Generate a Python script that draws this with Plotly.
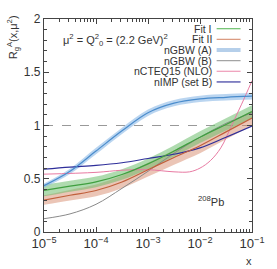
import numpy as np
import plotly.graph_objects as go

# log10(x) grid for the smooth curves
logx = [-5, -4.5, -4, -3.5, -3, -2.5, -2, -1.5, -1]

fit1 = [0.39, 0.43, 0.47, 0.54, 0.64, 0.76, 0.89, 1.01, 1.13]
fit1_err = [0.055, 0.052, 0.05, 0.05, 0.05, 0.052, 0.055, 0.058, 0.06]

fit2 = [0.30, 0.345, 0.39, 0.47, 0.585, 0.70, 0.81, 0.94, 1.07]
fit2_err = [0.045, 0.05, 0.055, 0.06, 0.065, 0.068, 0.07, 0.07, 0.07]

ngbw_a = [0.435, 0.57, 0.76, 0.95, 1.12, 1.21, 1.25, 1.265, 1.275]
ngbw_a_err = [0.02, 0.025, 0.03, 0.03, 0.03, 0.03, 0.03, 0.03, 0.03]

ngbw_b = [0.125, 0.17, 0.26, 0.41, 0.57, 0.74, 0.89, 1.02, 1.12]

nimp = [0.59, 0.61, 0.625, 0.65, 0.69, 0.73, 0.79, 0.89, 0.995]

logx_cteq = [-5, -4, -3.5, -3, -2.5, -2.2, -2, -1.8, -1.6, -1.4, -1.2, -1]
ncteq = [0.543, 0.56, 0.58, 0.585, 0.565, 0.565, 0.6, 0.67, 0.79, 0.99, 1.2, 1.42]

legend_names = ["Fit I", "Fit II", "nGBW (A)", "nGBW (B)", "nCTEQ15 (NLO)", "nIMP (set B)"]

x = 10 ** np.array(logx, dtype=float)
xc = 10 ** np.array(logx_cteq, dtype=float)

C_GREEN = "#3f9f3f"
C_GREEN_BAND = "rgba(110,190,110,0.55)"
C_BROWN = "#c0603c"
C_BROWN_BAND = "rgba(215,140,110,0.5)"
C_BLUE = "#4a8ccc"
C_BLUE_BAND = "rgba(140,185,230,0.6)"
C_GRAY = "#8a8a8a"
C_PINK = "#e87aa2"
C_NAVY = "#2e2e9a"

fig = go.Figure()


def band(y, e, color):
    y = np.array(y)
    e = np.array(e)
    fig.add_trace(go.Scatter(x=x, y=y + e, mode="lines", line=dict(width=0, shape="spline"),
                             showlegend=False, hoverinfo="skip"))
    fig.add_trace(go.Scatter(x=x, y=y - e, mode="lines", line=dict(width=0, shape="spline"),
                             fill="tonexty", fillcolor=color, showlegend=False, hoverinfo="skip"))


band(fit2, fit2_err, C_BROWN_BAND)
band(fit1, fit1_err, C_GREEN_BAND)
band(ngbw_a, ngbw_a_err, C_BLUE_BAND)

fig.add_trace(go.Scatter(x=x, y=ngbw_b, mode="lines", line=dict(color=C_GRAY, width=1, shape="spline"), showlegend=False))
fig.add_trace(go.Scatter(x=xc, y=ncteq, mode="lines", line=dict(color=C_PINK, width=1, shape="spline"), showlegend=False))
fig.add_trace(go.Scatter(x=x, y=nimp, mode="lines", line=dict(color=C_NAVY, width=1.2, shape="spline"), showlegend=False))
fig.add_trace(go.Scatter(x=x, y=fit2, mode="lines", line=dict(color=C_BROWN, width=1.2, shape="spline"), showlegend=False))
fig.add_trace(go.Scatter(x=x, y=fit1, mode="lines", line=dict(color=C_GREEN, width=1.2, shape="spline"), showlegend=False))
fig.add_trace(go.Scatter(x=x, y=ngbw_a, mode="lines", line=dict(color=C_BLUE, width=1.2, shape="spline"), showlegend=False))

FONT = "Liberation Sans"
TXT = "#333333"

shapes = [dict(type="line", xref="paper", yref="y", x0=0, x1=1, y0=1, y1=1,
               line=dict(color="#999999", width=1, dash="dash"), layer="below")]
annotations = []

leg_colors = ["#6cc06c", "#d9957a", "#b5cfea", "#a0a0a0", "#ef9ab8", "#3a3aa0"]
leg_widths = [1.2, 1.2, 4, 1.2, 1.2, 1.2]
leg_y = [0.9545, 0.9045, 0.8545, 0.8045, 0.7545, 0.7045]
for name, c, w, yy in zip(legend_names, leg_colors, leg_widths, leg_y):
    annotations.append(dict(xref="paper", yref="paper", x=0.815, y=yy, text=name, showarrow=False,
                            xanchor="right", yanchor="middle", font=dict(family=FONT, size=10.5, color=TXT)))
    shapes.append(dict(type="line", xref="paper", yref="paper", x0=0.83, x1=0.945, y0=yy, y1=yy,
                       line=dict(color=c, width=w)))

annotations.append(dict(xref="paper", yref="paper", x=0.083, y=0.9, xanchor="left", yanchor="middle",
                        text="μ<sup>2</sup> = Q<sup>2</sup><sub>0</sub> = (2.2 GeV)<sup>2</sup>",
                        showarrow=False, font=dict(family=FONT, size=11, color=TXT)))
annotations.append(dict(xref="paper", yref="paper", x=0.805, y=0.145, xanchor="center", yanchor="middle",
                        text="<sup>208</sup>Pb", showarrow=False, font=dict(family=FONT, size=11, color=TXT)))
annotations.append(dict(xref="paper", yref="paper", x=-0.148, y=0.915, xanchor="center", yanchor="middle",
                        textangle=-90, text="R<sub>g</sub><sup>A</sup>(x,μ<sup>2</sup>)",
                        showarrow=False, font=dict(family=FONT, size=11, color=TXT)))
annotations.append(dict(xref="paper", yref="paper", x=0.986, y=-0.136, xanchor="center", yanchor="middle",
                        text="x", showarrow=False, font=dict(family=FONT, size=11, color=TXT)))

fig.update_layout(
    width=277, height=269,
    margin=dict(l=44, r=12, t=12, b=37),
    paper_bgcolor="white", plot_bgcolor="white",
    showlegend=False,
    shapes=shapes, annotations=annotations,
    xaxis=dict(type="log", range=[-5, -1], dtick=1, exponentformat="power",
               showgrid=False, zeroline=False, showline=True, linecolor="#444", linewidth=1.2,
               mirror="allticks", ticks="inside", ticklen=5, tickcolor="#444",
               ticklabeloverflow="allow",
               minor=dict(ticks="inside", ticklen=3, dtick="D1", tickcolor="#444", showgrid=False),
               tickfont=dict(family=FONT, size=10.5, color=TXT)),
    yaxis=dict(range=[0, 2], dtick=0.5, showgrid=False, zeroline=False, showline=True,
               linecolor="#444", linewidth=1.2, mirror="allticks", ticks="inside", ticklen=5,
               tickcolor="#444",
               minor=dict(ticks="inside", ticklen=3, dtick=0.1, tickcolor="#444", showgrid=False),
               tickfont=dict(family=FONT, size=12, color=TXT)),
)

fig.write_html("out.html", config={"displayModeBar": False},
               post_script="document.body.style.margin='0';document.body.style.overflow='hidden';")
